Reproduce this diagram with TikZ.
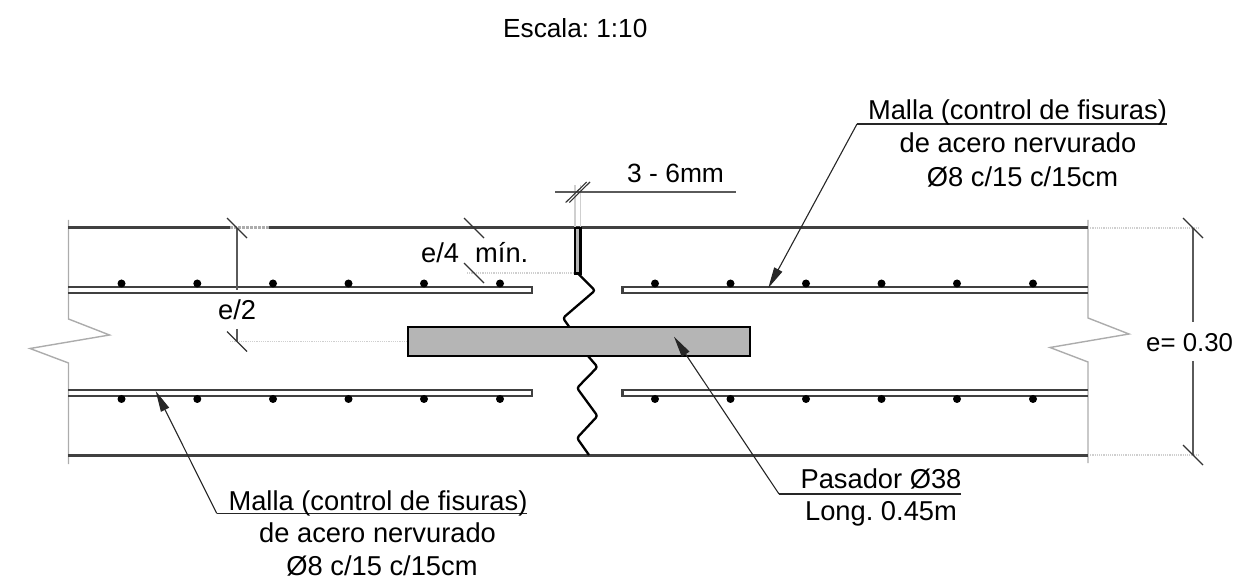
\documentclass[tikz,border=0pt]{standalone}
\usepackage{fontspec}
\setmainfont{Liberation Sans}
\usetikzlibrary{arrows.meta}
\definecolor{slab}{HTML}{404040}
\definecolor{lite}{HTML}{CFCFCF}
\definecolor{edgeg}{HTML}{ACACAC}
\definecolor{dimg}{HTML}{5A5A5A}
\definecolor{fillg}{HTML}{B5B5B5}
\tikzset{
  slabline/.style={draw=slab,line width=3pt},
  barline/.style={draw=slab,line width=2.1pt},
  edgeline/.style={draw=edgeg,line width=1.4pt,line join=miter},
  extline/.style={draw=lite,line width=1.2pt,densely dotted},
  dimline/.style={draw=dimg,line width=1.4pt},
  ticks/.style={draw=black!80,line width=1.1pt},
  joint/.style={draw=black,line width=2.3pt,rounded corners=2.5pt},
  leader/.style={draw=black!85,line width=1.1pt},
  tipped/.style={leader,-{Triangle[length=21pt,width=9pt]}},
  lab/.style={inner sep=0pt,anchor=base west,font=\fontsize{27.3}{33}\selectfont\frenchspacing},
  labc/.style={lab,anchor=base},
  rebar/.style={circle,fill=black,inner sep=0pt,minimum size=8pt}
}
\begin{document}
\begin{tikzpicture}[x=1pt,y=-1pt]
\useasboundingbox (0,0) rectangle (1235,585);
\clip (0,0) rectangle (1235,585);
% slab faces and broken ends
\draw[edgeline] (68.5,220) -- (68.5,319) -- (109.5,335) -- (30,348.5) -- (68.5,363) -- (68.5,464);
\draw[edgeline] (1088,220) -- (1088,318) -- (1129,334) -- (1050,347.5) -- (1088,362) -- (1088,463);
% extension lines
\draw[extline] (1088,228) -- (1200,228);
\draw[extline] (1088,455) -- (1200,455);
\draw[slabline] (68,228) -- (1088,228);
\draw[slabline] (68,455) -- (1088,455);
\draw[draw=white,line width=3pt] (230,228) -- (269,228);
\draw[draw=edgeg,line width=3pt,densely dotted] (230,228) -- (269,228);
\draw[draw=lite,line width=1.1pt] (575,185) -- (575,228);
\draw[draw=lite,line width=1.1pt] (580.5,185) -- (580.5,228);
\draw[extline] (467,273) -- (575,273);
\draw[extline] (230,341.5) -- (408,341.5);
% bars
\draw[barline] (68,287) -- (532,287) -- (532,293) -- (68,293);
\draw[barline] (1088,287) -- (622.5,287) -- (622.5,293) -- (1088,293);
\draw[barline] (68,390) -- (532,390) -- (532,396) -- (68,396);
\draw[barline] (1088,390) -- (622.5,390) -- (622.5,396) -- (1088,396);
\foreach \x in {121.5,197.3,273,348.5,424,500,655,730.5,806,881.5,957,1033}{
  \node[rebar] at (\x,283.5) {};
  \node[rebar] at (\x,399) {};
}
% joint
\draw[joint] (578,273.5) -- (595,290.5) -- (563,318) -- (570,328);
\draw[joint] (588,356) -- (597.5,367) -- (577,388) -- (597.5,416) -- (577,438) -- (589,455);
\draw[draw=black,fill=fillg,line width=2.3pt] (575.3,228) rectangle (580.6,273.5);
\node[draw=black,fill=fillg,line width=2pt,minimum width=341.5pt,minimum height=29pt,inner sep=0pt,outer sep=0pt] (pas) at (578.75,341.5) {};
% dimensions
\draw[dimline] (237,228) -- (237,290);
\draw[dimline] (237,329) -- (237,341);
\draw[dimline] (1193,228) -- (1193,322);
\draw[dimline] (1193,361) -- (1193,455);
\draw[dimline] (555,192) -- (736,192);
\foreach \x/\y in {227/218,227/331.5,464/218,464/263,1183/218,1183/445}{
  \draw[ticks] (\x,\y) -- ++(20,20);
}
\draw[ticks] (565.7,202.5) -- (586.7,182);
\draw[ticks] (569.3,202.5) -- (590,182);
% leaders
\coordinate (a1) at (768.3,288);
\coordinate (a1k) at (857,124);
\coordinate (a1e) at (1167,124);
\draw[leader] (a1e) -- (a1k);
\draw[tipped] (a1k) -- (a1);
\coordinate (a2) at (155.7,391);
\coordinate (a2k) at (216.7,513.3);
\coordinate (a2e) at (527,513.3);
\draw[leader] (a2e) -- (a2k);
\draw[tipped] (a2k) -- (a2);
\coordinate (a3) at (674,336.7);
\coordinate (a3k) at (779,494);
\coordinate (a3e) at (961,494);
\draw[leader] (a3e) -- (a3k);
\draw[tipped] (a3k) -- (a3);
% text
\node[lab,font=\fontsize{26.2}{32}\selectfont\frenchspacing] (t1) at (503,38) {Escala: 1:10};
\node[lab,font=\fontsize{26.4}{32}\selectfont\frenchspacing] (t2) at (627,183) {3 - 6mm};
\node[lab] (t3) at (421,263) {e/4};
\node[lab] (t4) at (475,263) {mín.};
\node[lab] (t5) at (218,320) {e/2};
\node[lab,font=\fontsize{25.8}{32}\selectfont\frenchspacing] (t6) at (1146,352) {e= 0.30};
\node[labc] (t7) at (1017.5,120) {Malla (control de fisuras)};
\node[labc] (t8) at (1018,153) {de acero nervurado};
\node[labc] (t9) at (1022.5,186.7) {Ø8 c/15 c/15cm};
\node[labc] (t10) at (378,510) {Malla (control de fisuras)};
\node[labc] (t11) at (377.6,542) {de acero nervurado};
\node[labc] (t12) at (382,575) {Ø8 c/15 c/15cm};
\node[labc] (t13) at (881,488) {Pasador Ø38};
\node[labc] (t14) at (881,520.7) {Long. 0.45m};
\end{tikzpicture}
\end{document}
